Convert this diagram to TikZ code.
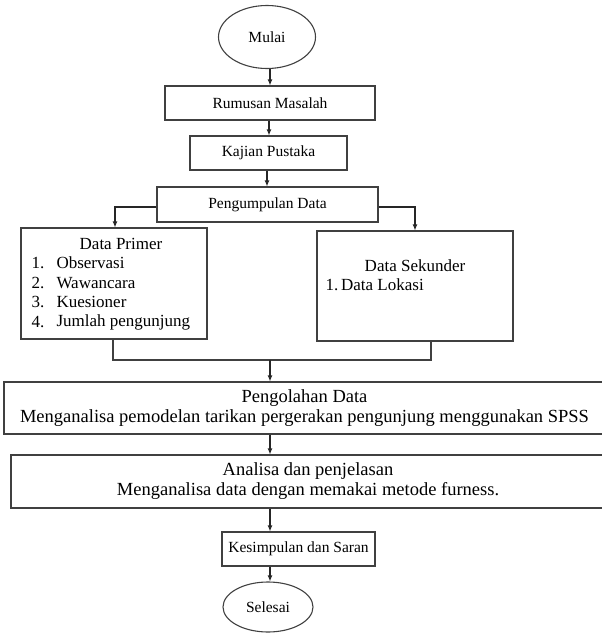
\documentclass[tikz,border=0pt]{standalone}
\usepackage{fontspec}
\setmainfont{Liberation Serif}
\usepackage{tikz}
\usetikzlibrary{arrows.meta,calc,shapes.geometric}

\newcommand{\smallfs}{\fontsize{15.5}{18}\selectfont}
\newcommand{\datafs}{\fontsize{17}{19}\selectfont}
\newcommand{\bigfs}{\fontsize{18.5}{20}\selectfont}

\begin{document}
\begin{tikzpicture}[x=1pt,y=-1pt,
    line width=1.1pt, draw=black!75,
    font=\smallfs,
    flowbox/.style={draw=black!75,rectangle,minimum width=#1,inner sep=0pt},
    termbox/.style={draw=black!75,ellipse,inner sep=0pt},
    itemtext/.style={anchor=west,inner sep=0pt,font=\datafs},
    flowarrow/.style={-{Latex[length=6pt,width=5pt]},draw=black!85}]
  \useasboundingbox (0,0) rectangle (602,637);
  \clip (0,0) rectangle (602,637);
  % Start and first steps
  \node[termbox,minimum width=97,minimum height=63] (mulai) at (267,37) {Mulai};
  \node[flowbox=210,minimum height=34] (rumusan) at (270,103) {Rumusan Masalah};
  \node[flowbox=157,minimum height=34] (kajian) at (268.5,153) {Kajian Pustaka};
  \node[flowbox=221,minimum height=35] (kumpul) at (267.5,204.5) {Pengumpulan Data};
  % Data boxes (side by side)
  \node[flowbox=186,minimum height=111] (primer) at (114,283.5) {};
  \node[font=\datafs] (primerT) at (121,244) {Data Primer};
  \foreach \n/\txt/\yy in {1/Observasi/263,2/Wawancara/283,3/Kuesioner/302,4/Jumlah pengunjung/322}{
    \node[itemtext] (num\n) at (31,\yy) {\n.};
    \node[itemtext] (item\n) at (56,\yy) {\txt};
  }
  \node[flowbox=196,minimum height=110] (sekunder) at (415,286) {};
  \node[font=\datafs] (sekunderT) at (415,266) {Data Sekunder};
  \node[itemtext] (sekunderL) at (325,285) {1.\,Data Lokasi};
  % Processing steps
  \node[flowbox=601,minimum height=52,align=center,font=\bigfs] (olah) at (304.5,408)
    {Pengolahan Data\\Menganalisa pemodelan tarikan pergerakan pengunjung menggunakan SPSS};
  \node[flowbox=594,minimum height=53,align=center,font=\bigfs] (analisa) at (308,481.5)
    {Analisa dan penjelasan\\Menganalisa data dengan memakai metode furness.};
  \node[flowbox=153,minimum height=34] (simpul) at (298.5,549) {Kesimpulan dan Saran};
  \node[termbox,minimum width=90,minimum height=50] (selesai) at (268,607) {Selesai};
  % Connectors
  \draw[flowarrow] (mulai.south -| 270,0) -- (rumusan.north -| 270,0);
  \draw[flowarrow] (rumusan.south -| 269,0) -- (kajian.north -| 269,0);
  \draw[flowarrow] (kajian.south -| 267,0) -- (kumpul.north -| 267,0);
  \coordinate (splitL) at (115,207);
  \coordinate (splitR) at (415,207);
  \draw[flowarrow] (kumpul.west |- splitL) -- (splitL) -- (splitL |- primer.north);
  \draw[flowarrow] (kumpul.east |- splitR) -- (splitR) -- (splitR |- sekunder.north);
  \coordinate (mergeL) at (113,360);
  \coordinate (mergeR) at (431,360);
  \coordinate (mergeC) at (270,360);
  \draw (mergeL |- primer.south) -- (mergeL) -- (mergeR) -- (mergeR |- sekunder.south);
  \draw[flowarrow] (mergeC) -- (mergeC |- olah.north);
  \draw[flowarrow] (olah.south -| mergeC) -- (analisa.north -| mergeC);
  \draw[flowarrow] (analisa.south -| mergeC) -- (simpul.north -| mergeC);
  \draw[flowarrow] (simpul.south -| mergeC) -- (selesai.north -| mergeC);
\end{tikzpicture}
\end{document}
